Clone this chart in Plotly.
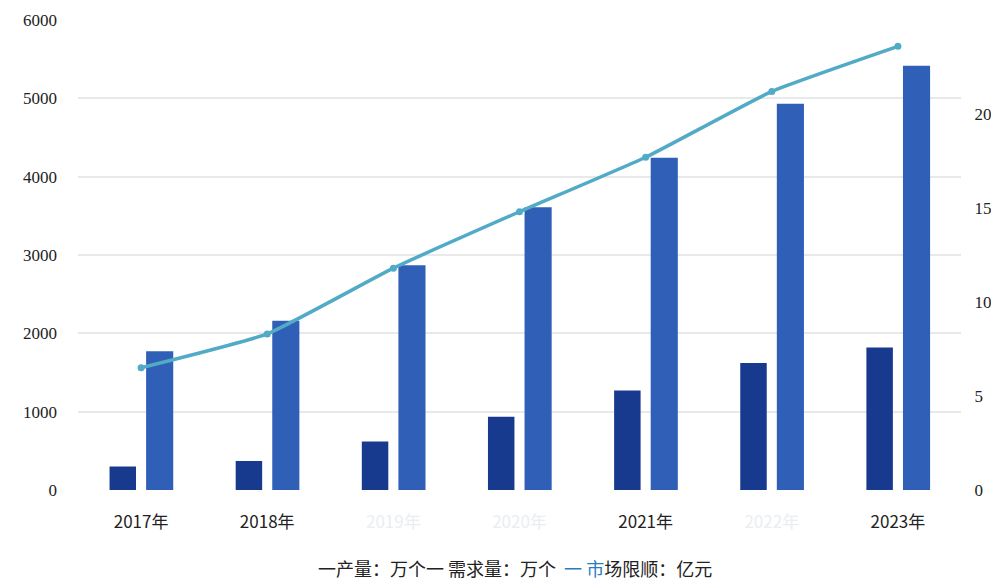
import plotly.graph_objects as go

# 产量/需求量（万个）与市场规模（亿元）
years = ["2017年", "2018年", "2019年", "2020年", "2021年", "2022年", "2023年"]
output_wan = [300, 370, 620, 935, 1270, 1620, 1820]
demand_wan = [1770, 2160, 2870, 3610, 4240, 4930, 5415]
market_yi = [6.5, 8.3, 11.8, 14.8, 17.7, 21.2, 23.6]

left_ticks = [0, 1000, 2000, 3000, 4000, 5000, 6000]
right_ticks = [0, 5, 10, 15, 20]

# years whose labels are printed faintly
faint_years = {"2019年", "2020年", "2022年"}
tick_text = [
    f"<span style='color:#e9eef2'>{y}</span>" if y in faint_years else y
    for y in years
]

NAVY = "#183a8e"
BLUE = "#2f5fb6"
LINE = "#52abc6"
SERIF = "Liberation Serif, Times New Roman, serif"

fig = go.Figure()
fig.add_trace(go.Bar(
    x=years, y=output_wan, name="产量：万个",
    marker=dict(color=NAVY, line=dict(width=0)),
    offset=-0.25, width=0.21,
))
fig.add_trace(go.Bar(
    x=years, y=demand_wan, name="需求量：万个",
    marker=dict(color=BLUE, line=dict(width=0)),
    offset=0.04, width=0.215,
))
fig.add_trace(go.Scatter(
    x=years, y=market_yi, name="市场规模：亿元", yaxis="y2",
    mode="lines+markers",
    line=dict(color=LINE, width=3.5, shape="spline", smoothing=0.4),
    marker=dict(color=LINE, size=7),
))

fig.update_layout(
    width=991, height=580,
    margin=dict(l=78, r=30, t=20, b=90, autoexpand=False),
    paper_bgcolor="white", plot_bgcolor="white",
    barmode="overlay",
    showlegend=False,
    font=dict(family="Noto Sans CJK SC", color="#222222"),
    xaxis=dict(
        type="category", range=[-0.5, 6.5],
        tickvals=years, ticktext=tick_text,
        showgrid=False, zeroline=False, showline=False, ticks="",
        tickfont=dict(family="Noto Sans CJK SC", size=17, color="#222222"),
        ticklabelstandoff=20,
    ),
    yaxis=dict(
        range=[0, 6000], tickvals=left_ticks,
        showgrid=True, gridcolor="#e9e9e9", gridwidth=2,
        zeroline=False, showline=False, ticks="",
        tickfont=dict(family=SERIF, size=17, color="#222222"),
        ticklabelstandoff=20,
    ),
    yaxis2=dict(
        range=[0, 25], tickvals=right_ticks, overlaying="y", side="right",
        showgrid=False, zeroline=False, showline=False,
        ticks="outside", ticklen=9, tickcolor="rgba(0,0,0,0)",
        tickfont=dict(family=SERIF, size=17, color="#222222"),
    ),
)

legend_text = (
    "一产量：万个一 需求量：万个  "
    f"<span style='color:#2a7cc0'>一 市</span>场限顺：亿元"
)
fig.add_annotation(
    x=0.495, xref="paper", y=-0.165, yref="paper",
    xanchor="center", yanchor="middle", showarrow=False,
    text=legend_text,
    font=dict(family="Noto Sans CJK SC", size=18, color="#222222"),
)

fig.write_html("out.html")
